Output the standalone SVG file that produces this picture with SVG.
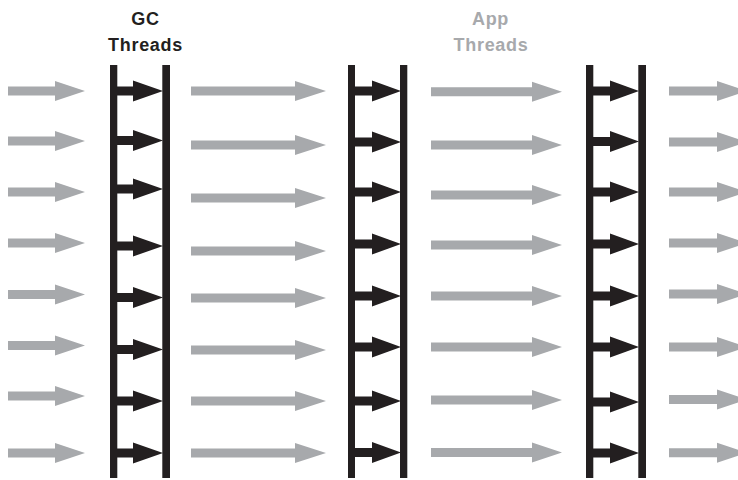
<svg xmlns="http://www.w3.org/2000/svg" xmlns:xlink="http://www.w3.org/1999/xlink" width="738" height="480" viewBox="0 0 738 480">
<style>
.g{fill:#a7a9ac}
.k{fill:#231f20}
.rail{fill:#231f20}
.lbl{font-family:"Liberation Sans",Arial,sans-serif;font-weight:bold;font-size:18px;letter-spacing:0.7px;text-anchor:middle}
</style>
<defs>
<path id="a1" class="g" d="M8,-4.5H55V-10L85,0L55,10V4.5H8Z"/>
<path id="a2" class="g" d="M191,-4.5H295V-10L326,0L295,10V4.5H191Z"/>
<path id="a3" class="g" d="M431,-4.5H532V-10L562,0L532,10V4.5H431Z"/>
<path id="a4" class="g" d="M669,-4.5H717V-10L747,0L717,10V4.5H669Z"/>
<path id="r1" class="k" d="M116,-4.5H133V-10.5L163,0L133,10.5V4.5H116Z"/>
<path id="r2" class="k" d="M354,-4.5H372V-10.5L401,0L372,10.5V4.5H354Z"/>
<path id="r3" class="k" d="M592,-4.5H610V-10.5L639,0L610,10.5V4.5H592Z"/>
</defs>
<rect width="738" height="480" fill="#ffffff"/>
<g id="label-gc" fill="#231f20">
<text class="lbl" x="145.5" y="25">GC</text>
<text class="lbl" x="145.5" y="51">Threads</text>
</g>
<g id="label-app" fill="#a7a9ac">
<text class="lbl" x="490.5" y="25">App</text>
<text class="lbl" x="491" y="51">Threads</text>
</g>
<g id="ladder-gc">
<rect class="rail" x="110" y="65" width="7.3" height="413"/>
<rect class="rail" x="162.3" y="65" width="7.7" height="413"/>
<use href="#r1" y="91"/><use href="#r1" y="140.5"/><use href="#r1" y="189"/><use href="#r1" y="246"/>
<use href="#r1" y="297.5"/><use href="#r1" y="349.5"/><use href="#r1" y="401"/><use href="#r1" y="453"/>
</g>
<g id="ladder-2">
<rect class="rail" x="348" y="65" width="7" height="413"/>
<rect class="rail" x="400" y="65" width="7.3" height="413"/>
<use href="#r2" y="91"/><use href="#r2" y="142"/><use href="#r2" y="192"/><use href="#r2" y="244"/>
<use href="#r2" y="296"/><use href="#r2" y="347"/><use href="#r2" y="401"/><use href="#r2" y="452.5"/>
</g>
<g id="ladder-3">
<rect class="rail" x="586" y="65" width="7.3" height="413"/>
<rect class="rail" x="638.3" y="65" width="7.7" height="413"/>
<use href="#r3" y="91"/><use href="#r3" y="141.5"/><use href="#r3" y="192"/><use href="#r3" y="244"/>
<use href="#r3" y="296"/><use href="#r3" y="347"/><use href="#r3" y="402"/><use href="#r3" y="453"/>
</g>
<g id="connectors">
<use href="#a1" y="91"/><use href="#a1" y="141"/><use href="#a1" y="192"/><use href="#a1" y="243"/>
<use href="#a1" y="294.5"/><use href="#a1" y="345.5"/><use href="#a1" y="396"/><use href="#a1" y="453"/>
<use href="#a2" y="91"/><use href="#a2" y="145"/><use href="#a2" y="198"/><use href="#a2" y="251"/>
<use href="#a2" y="298"/><use href="#a2" y="350"/><use href="#a2" y="401"/><use href="#a2" y="453"/>
<use href="#a3" y="91.7"/><use href="#a3" y="145"/><use href="#a3" y="195"/><use href="#a3" y="245"/>
<use href="#a3" y="296"/><use href="#a3" y="347"/><use href="#a3" y="400"/><use href="#a3" y="452.5"/>
<use href="#a4" y="91"/><use href="#a4" y="142"/><use href="#a4" y="192"/><use href="#a4" y="243"/>
<use href="#a4" y="294"/><use href="#a4" y="347"/><use href="#a4" y="399.5"/><use href="#a4" y="452.7"/>
</g>
</svg>
